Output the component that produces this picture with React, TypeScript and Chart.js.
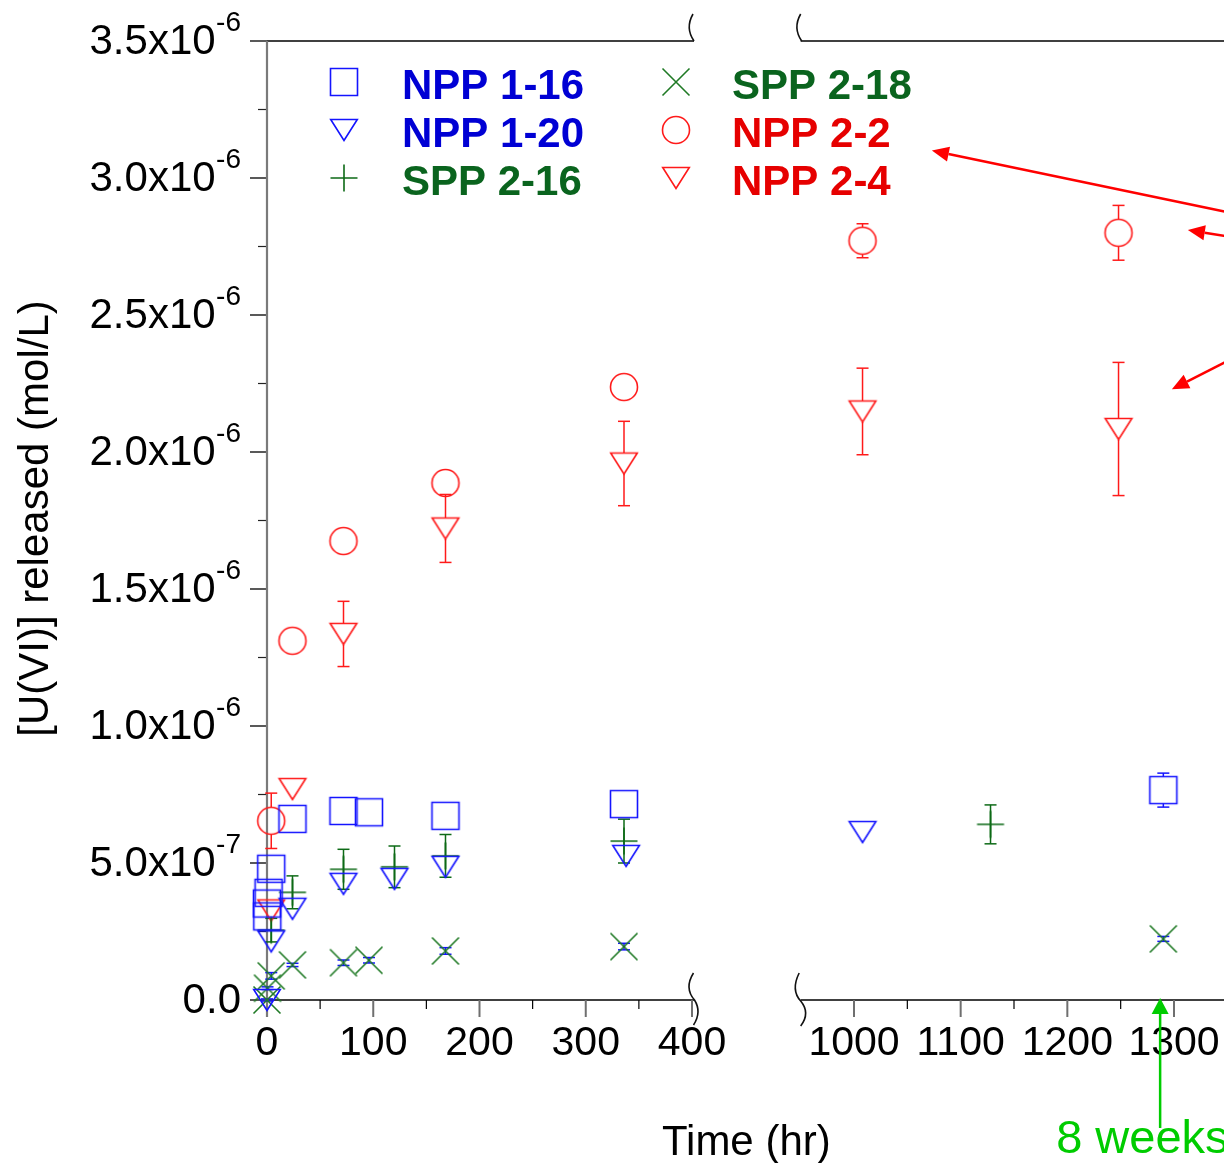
import React, { useEffect, useRef } from 'react';
import { Chart, registerables } from 'chart.js';

Chart.register(...registerables);

// ---------------- data (time in hr, concentration in mol/L) ----------------
const seriesNames = ['NPP 1-16', 'NPP 1-20', 'SPP 2-16', 'SPP 2-18', 'NPP 2-2', 'NPP 2-4'];

const npp116Time = [0, 0.25, 1.5, 4, 24, 72, 96, 168, 336, 1290];
const npp116Value = [3.52e-7, 3.05e-7, 3.91e-7, 4.79e-7, 6.61e-7, 6.9e-7, 6.85e-7, 6.72e-7, 7.15e-7, 7.66e-7];
const npp116Error = [0, 0, 0, 0, 0, 0, 0, 0, 0, 0.62e-7];

const npp120Time = [0, 4, 24, 72, 120, 168, 338, 1008];
const npp120Value = [0, 2.14e-7, 3.33e-7, 4.24e-7, 4.42e-7, 4.86e-7, 5.26e-7, 6.13e-7];
const npp120Error = [0, 0, 0, 0, 0, 0, 0, 0];

const spp216Time = [4, 24, 72, 120, 168, 336, 1128];
const spp216Value = [2.55e-7, 3.93e-7, 4.77e-7, 4.86e-7, 5.26e-7, 5.8e-7, 6.41e-7];
const spp216Error = [0.43e-7, 0.6e-7, 0.73e-7, 0.76e-7, 0.78e-7, 0.8e-7, 0.71e-7];

const spp218Time = [0, 0.5, 4, 24, 72, 96, 168, 336, 1290];
const spp218Value = [0, 0.43e-7, 0.88e-7, 1.28e-7, 1.36e-7, 1.45e-7, 1.79e-7, 1.95e-7, 2.23e-7];
const spp218Error = [0.04e-7, 0.05e-7, 0.12e-7, 0.06e-7, 0.1e-7, 0.1e-7, 0.12e-7, 0.12e-7, 0.09e-7];

const npp22Time = [4, 24, 72, 168, 336, 1008, 1248];
const npp22Value = [6.54e-7, 13.11e-7, 16.75e-7, 18.87e-7, 22.37e-7, 27.71e-7, 28.0e-7];
const npp22Error = [1.01e-7, 0, 0, 0, 0, 0.62e-7, 1.0e-7];

const npp24Time = [4, 24, 72, 168, 336, 1008, 1248];
const npp24Value = [3.27e-7, 7.7e-7, 13.36e-7, 17.21e-7, 19.58e-7, 21.48e-7, 20.84e-7];
const npp24Error = [0, 0, 1.19e-7, 1.24e-7, 1.54e-7, 1.58e-7, 2.43e-7];

// ---------------- axes ----------------
const yTickValues = [0, 0.5e-6, 1.0e-6, 1.5e-6, 2.0e-6, 2.5e-6, 3.0e-6, 3.5e-6];
const yTickMantissas = ['0.0', '5.0x10', '1.0x10', '1.5x10', '2.0x10', '2.5x10', '3.0x10', '3.5x10'];
const yTickExponents = ['', '-7', '-6', '-6', '-6', '-6', '-6', '-6'];
const yMinorTicks = [0.25e-6, 0.75e-6, 1.25e-6, 1.75e-6, 2.25e-6, 2.75e-6, 3.25e-6];
const xLeftRange = [0, 400];
const xRightRange = [950, 1400];
const xLeftTicks = [0, 100, 200, 300, 400];
const xLeftMinorTicks = [50, 150, 250, 350];
const xRightTicks = [1000, 1100, 1200, 1300];
const xRightMinorTicks = [1050, 1150, 1250, 1350];

const xTitle = 'Time (hr)';
const yTitle = '[U(VI)] released (mol/L)';
const weeksLabel = '8 weeks';
const weeksTime = 1287;
// red pointer arrows: [time, value] of tail and tip (right panel coordinates)
const pointerTails = [[1418, 28.2e-7], [1418, 27.45e-7], [1418, 24.67e-7]];
const pointerTips = [[1073, 31.0e-7], [1313, 28.1e-7], [1298, 22.29e-7]];

// ---------------- styles ----------------
const BLUE = '#1414ff';
const GREEN = '#0d6a16';
const RED = '#ff1a1a';
const seriesStyles = [
  { shape: 'square', color: BLUE, errColor: BLUE, text: '#0000d4' },
  { shape: 'triangle', color: BLUE, errColor: BLUE, text: '#0000d4' },
  { shape: 'plus', color: GREEN, errColor: GREEN, text: '#0a641e' },
  { shape: 'cross', color: '#1f7a25', errColor: BLUE, text: '#0a641e' },
  { shape: 'circle', color: RED, errColor: RED, text: '#e60000' },
  { shape: 'triangle', color: RED, errColor: RED, text: '#e60000' },
];
const seriesTimes = [npp116Time, npp120Time, spp216Time, spp218Time, npp22Time, npp24Time];
const seriesValues = [npp116Value, npp120Value, spp216Value, spp218Value, npp22Value, npp24Value];
const seriesErrors = [npp116Error, npp120Error, spp216Error, spp218Error, npp22Error, npp24Error];

const FONT = '"Liberation Sans", Arial, Helvetica, sans-serif';
const CANVAS_W = 1400;
const CANVAS_H = 1163;
const PAD = { left: 267, top: 41, right: 110, bottom: 163 };
const LEFT_END_PX = 692;
const RIGHT_REF_PX = 854;
const RIGHT_PX_PER_HR = 320 / 300;
const AREA_W = CANVAS_W - PAD.left - PAD.right;
const K1 = (LEFT_END_PX - PAD.left) / (xLeftRange[1] - xLeftRange[0]);
const X1_MAX = xLeftRange[0] + AREA_W / K1;
const X2_MIN = xRightTicks[0] - (RIGHT_REF_PX - PAD.left) / RIGHT_PX_PER_HR;
const X2_MAX = X2_MIN + AREA_W / RIGHT_PX_PER_HR;

const HALF = 13.5;
const TRI_W = 13.3;
const TRI_H = 10.5;

function makeMarker(shape: string, color: string): HTMLCanvasElement {
  const c = document.createElement('canvas');
  c.width = 34;
  c.height = 34;
  const g = c.getContext('2d')!;
  g.strokeStyle = color;
  g.lineWidth = 1.6;
  const cx = 17;
  const cy = 17;
  g.beginPath();
  if (shape === 'square') {
    g.rect(cx - HALF, cy - HALF, HALF * 2, HALF * 2);
  } else if (shape === 'circle') {
    g.arc(cx, cy, HALF, 0, Math.PI * 2);
  } else if (shape === 'triangle') {
    g.moveTo(cx - TRI_W, cy - TRI_H);
    g.lineTo(cx + TRI_W, cy - TRI_H);
    g.lineTo(cx, cy + TRI_H);
    g.closePath();
  } else if (shape === 'plus') {
    g.moveTo(cx - HALF, cy);
    g.lineTo(cx + HALF, cy);
    g.moveTo(cx, cy - HALF);
    g.lineTo(cx, cy + HALF);
  } else if (shape === 'cross') {
    g.moveTo(cx - HALF, cy - HALF);
    g.lineTo(cx + HALF, cy + HALF);
    g.moveTo(cx + HALF, cy - HALF);
    g.lineTo(cx - HALF, cy + HALF);
  }
  g.stroke();
  return c;
}

function gapFor(shape: string): [number, number] {
  if (shape === 'square' || shape === 'circle') return [HALF, HALF];
  if (shape === 'triangle') return [TRI_H, TRI_H];
  return [0, 0];
}

function line(ctx: CanvasRenderingContext2D, xa: number, ya: number, xb: number, yb: number) {
  ctx.beginPath();
  ctx.moveTo(xa, ya);
  ctx.lineTo(xb, yb);
  ctx.stroke();
}

function arrow(ctx: CanvasRenderingContext2D, xa: number, ya: number, xb: number, yb: number, headLen: number, headHalf: number) {
  const ang = Math.atan2(yb - ya, xb - xa);
  const bx = xb - Math.cos(ang) * headLen;
  const by = yb - Math.sin(ang) * headLen;
  line(ctx, xa, ya, bx, by);
  ctx.beginPath();
  ctx.moveTo(xb, yb);
  ctx.lineTo(bx + Math.sin(ang) * headHalf, by - Math.cos(ang) * headHalf);
  ctx.lineTo(bx - Math.sin(ang) * headHalf, by + Math.cos(ang) * headHalf);
  ctx.closePath();
  ctx.fill();
}

export default function App() {
  const canvasRef = useRef<HTMLCanvasElement | null>(null);

  useEffect(() => {
    const canvas = canvasRef.current;
    if (!canvas) return;
    const markers = seriesStyles.map((s) => makeMarker(s.shape, s.color));

    const datasets: any[] = [];
    seriesNames.forEach((name, i) => {
      const pts = seriesTimes[i].map((t, j) => ({ x: t, y: seriesValues[i][j], e: seriesErrors[i][j] }));
      const left = pts.filter((p) => p.x <= xLeftRange[1]);
      const right = pts.filter((p) => p.x >= xRightRange[0]);
      [
        { part: left, axis: 'x1' },
        { part: right, axis: 'x2' },
      ].forEach(({ part, axis }) => {
        datasets.push({
          label: name,
          data: part,
          xAxisID: axis,
          yAxisID: 'y',
          pointStyle: markers[i],
          pointRadius: 14,
          pointHoverRadius: 14,
          showLine: false,
          clip: false,
          seriesIndex: i,
        });
      });
    });

    const brokenAxes = {
      id: 'brokenAxes',
      beforeDatasetsDraw(chart: any) {
        const ctx: CanvasRenderingContext2D = chart.ctx;
        const x1 = chart.scales.x1;
        const x2 = chart.scales.x2;
        const y = chart.scales.y;
        const yTop = y.getPixelForValue(yTickValues[yTickValues.length - 1]);
        const yBot = y.getPixelForValue(0);
        const l0 = x1.getPixelForValue(xLeftRange[0]);
        const l1 = x1.getPixelForValue(xLeftRange[1]);
        const r0 = x2.getPixelForValue(xRightRange[0]);
        const r1 = x2.getPixelForValue(xRightRange[1]);
        ctx.save();
        ctx.lineCap = 'butt';
        // frame
        ctx.strokeStyle = '#000';
        ctx.lineWidth = 1.5;
        line(ctx, l0, yBot, l1 + 2, yBot);
        line(ctx, r0, yBot, r1, yBot);
        line(ctx, l0, yTop, l1 + 2, yTop);
        line(ctx, r0, yTop, r1, yTop);
        // y ticks
        ctx.strokeStyle = '#222';
        ctx.lineWidth = 1.5;
        yTickValues.forEach((v) => {
          const py = y.getPixelForValue(v);
          line(ctx, l0 - 17, py, l0, py);
        });
        ctx.lineWidth = 1.2;
        yMinorTicks.forEach((v) => {
          const py = y.getPixelForValue(v);
          line(ctx, l0 - 9, py, l0, py);
        });
        // x ticks
        ctx.strokeStyle = '#6f6f6f';
        ctx.lineWidth = 2;
        xLeftTicks.forEach((v) => {
          const px = x1.getPixelForValue(v);
          line(ctx, px, yBot, px, yBot + 17);
        });
        xRightTicks.forEach((v) => {
          const px = x2.getPixelForValue(v);
          line(ctx, px, yBot, px, yBot + 17);
        });
        ctx.strokeStyle = '#000';
        ctx.lineWidth = 1.2;
        xLeftMinorTicks.forEach((v) => {
          const px = x1.getPixelForValue(v);
          line(ctx, px, yBot, px, yBot + 9);
        });
        xRightMinorTicks.forEach((v) => {
          const px = x2.getPixelForValue(v);
          line(ctx, px, yBot, px, yBot + 9);
        });
        // y axis line
        ctx.strokeStyle = '#7a7a7a';
        ctx.lineWidth = 2.2;
        line(ctx, l0, yTop, l0, yBot + 17);

        // break marks
        ctx.strokeStyle = '#111';
        ctx.lineWidth = 1.6;
        ctx.beginPath();
        ctx.moveTo(l1 + 2, yTop);
        ctx.quadraticCurveTo(l1 - 7, yTop - 13, l1 + 1, yTop - 27);
        ctx.stroke();
        ctx.beginPath();
        ctx.moveTo(r0 + 1, yTop);
        ctx.quadraticCurveTo(r0 - 8, yTop - 13, r0, yTop - 27);
        ctx.stroke();
        ctx.beginPath();
        ctx.moveTo(l1 + 1.5, yBot - 27);
        ctx.quadraticCurveTo(l1 - 8, yBot - 12, l1 + 2.5, yBot);
        ctx.quadraticCurveTo(l1 + 10, yBot + 12, l1 + 1.5, yBot + 25);
        ctx.stroke();
        ctx.beginPath();
        ctx.moveTo(r0 - 1.5, yBot - 27);
        ctx.quadraticCurveTo(r0 - 10, yBot - 10, r0, yBot + 1);
        ctx.quadraticCurveTo(r0 + 10, yBot + 13, r0, yBot + 26);
        ctx.stroke();

        // error bars
        ctx.lineWidth = 1.5;
        chart.data.datasets.forEach((ds: any, di: number) => {
          const meta = chart.getDatasetMeta(di);
          const st = seriesStyles[ds.seriesIndex];
          const [gUp, gDown] = gapFor(st.shape);
          ctx.strokeStyle = st.errColor;
          ds.data.forEach((p: any, j: number) => {
            if (!p.e) return;
            const el = meta.data[j];
            const px = el.x;
            const py = el.y;
            const hi = y.getPixelForValue(p.y + p.e);
            const lo = y.getPixelForValue(p.y - p.e);
            if (hi < py - gUp) line(ctx, px, hi, px, py - gUp);
            if (lo > py + gDown) line(ctx, px, py + gDown, px, lo);
            line(ctx, px - 6, hi, px + 6, hi);
            line(ctx, px - 6, lo, px + 6, lo);
          });
        });
        ctx.restore();
      },
      afterDraw(chart: any) {
        const ctx: CanvasRenderingContext2D = chart.ctx;
        const x1 = chart.scales.x1;
        const x2 = chart.scales.x2;
        const y = chart.scales.y;
        const yTop = y.getPixelForValue(yTickValues[yTickValues.length - 1]);
        const yBot = y.getPixelForValue(0);
        const l0 = x1.getPixelForValue(xLeftRange[0]);
        const l1 = x1.getPixelForValue(xLeftRange[1]);
        const r0 = x2.getPixelForValue(xRightRange[0]);
        ctx.save();
        ctx.fillStyle = '#000';
        // y tick labels
        const labelRight = l0 - 26;
        yTickValues.forEach((v, i) => {
          const py = y.getPixelForValue(v);
          ctx.textAlign = 'right';
          ctx.textBaseline = 'alphabetic';
          let right = labelRight;
          const exp = yTickExponents[i];
          if (exp) {
            ctx.font = `28px ${FONT}`;
            ctx.fillText(exp, right, py - 10);
            right -= ctx.measureText(exp).width + 0.5;
          }
          ctx.font = `42px ${FONT}`;
          ctx.fillText(yTickMantissas[i], right, py + 13);
        });
        // x tick labels
        ctx.font = `41px ${FONT}`;
        ctx.textAlign = 'center';
        xLeftTicks.forEach((v) => ctx.fillText(String(v), x1.getPixelForValue(v), yBot + 55));
        xRightTicks.forEach((v) => ctx.fillText(String(v), x2.getPixelForValue(v), yBot + 55));
        // axis titles
        ctx.font = `42px ${FONT}`;
        ctx.fillText(xTitle, (l1 + r0) / 2, yBot + 155);
        ctx.save();
        ctx.translate(48, (yTop + yBot) / 2 - 2);
        ctx.rotate(-Math.PI / 2);
        ctx.fillText(yTitle, 0, 0);
        ctx.restore();

        // legend
        const colMarkerX = [l0 + 77, l0 + 409];
        const colTextX = [l0 + 135, l0 + 465];
        const rowY = [yTop + 41, yTop + 89, yTop + 137];
        const order = [
          [0, 0, 0],
          [1, 0, 1],
          [2, 0, 2],
          [3, 1, 0],
          [4, 1, 1],
          [5, 1, 2],
        ];
        ctx.font = `bold 42px ${FONT}`;
        ctx.textAlign = 'left';
        order.forEach(([si, col, row]) => {
          const m = markers[si];
          ctx.drawImage(m, colMarkerX[col] - m.width / 2, rowY[row] - m.height / 2);
          ctx.fillStyle = seriesStyles[si].text;
          ctx.fillText(seriesNames[si], colTextX[col], rowY[row] + 17);
        });

        // red pointer arrows
        ctx.strokeStyle = '#ff0000';
        ctx.fillStyle = '#ff0000';
        ctx.lineWidth = 2.5;
        pointerTails.forEach((tail, i) => {
          const tip = pointerTips[i];
          arrow(
            ctx,
            x2.getPixelForValue(tail[0]),
            y.getPixelForValue(tail[1]),
            x2.getPixelForValue(tip[0]),
            y.getPixelForValue(tip[1]),
            17,
            7.5
          );
        });

        // 8 weeks arrow
        const wx = x2.getPixelForValue(weeksTime);
        ctx.strokeStyle = '#00cc00';
        ctx.fillStyle = '#00cc00';
        ctx.lineWidth = 2.5;
        arrow(ctx, wx, yBot + 128, wx, yBot - 2, 16, 8.5);
        ctx.font = `47px ${FONT}`;
        ctx.textAlign = 'left';
        ctx.fillText(weeksLabel, wx - 104, yBot + 153);
        ctx.restore();
      },
    };

    const chart = new Chart(canvas, {
      type: 'scatter',
      data: { datasets },
      options: {
        animation: false,
        responsive: false,
        devicePixelRatio: 1,
        layout: { padding: PAD },
        plugins: {
          legend: { display: false },
          tooltip: { enabled: false },
        },
        events: [],
        scales: {
          x1: { type: 'linear', axis: 'x', position: 'bottom', display: false, min: xLeftRange[0], max: X1_MAX },
          x2: { type: 'linear', axis: 'x', position: 'bottom', display: false, min: X2_MIN, max: X2_MAX },
          y: { type: 'linear', axis: 'y', display: false, min: yTickValues[0], max: yTickValues[yTickValues.length - 1] },
        },
      } as any,
      plugins: [brokenAxes],
    });

    return () => chart.destroy();
  }, []);

  return (
    <div
      style={{
        position: 'absolute',
        left: 0,
        top: 0,
        width: 1224,
        height: 1163,
        overflow: 'hidden',
        background: '#ffffff',
      }}
    >
      <canvas
        ref={canvasRef}
        width={CANVAS_W}
        height={CANVAS_H}
        style={{ display: 'block', width: CANVAS_W, height: CANVAS_H }}
      />
    </div>
  );
}
